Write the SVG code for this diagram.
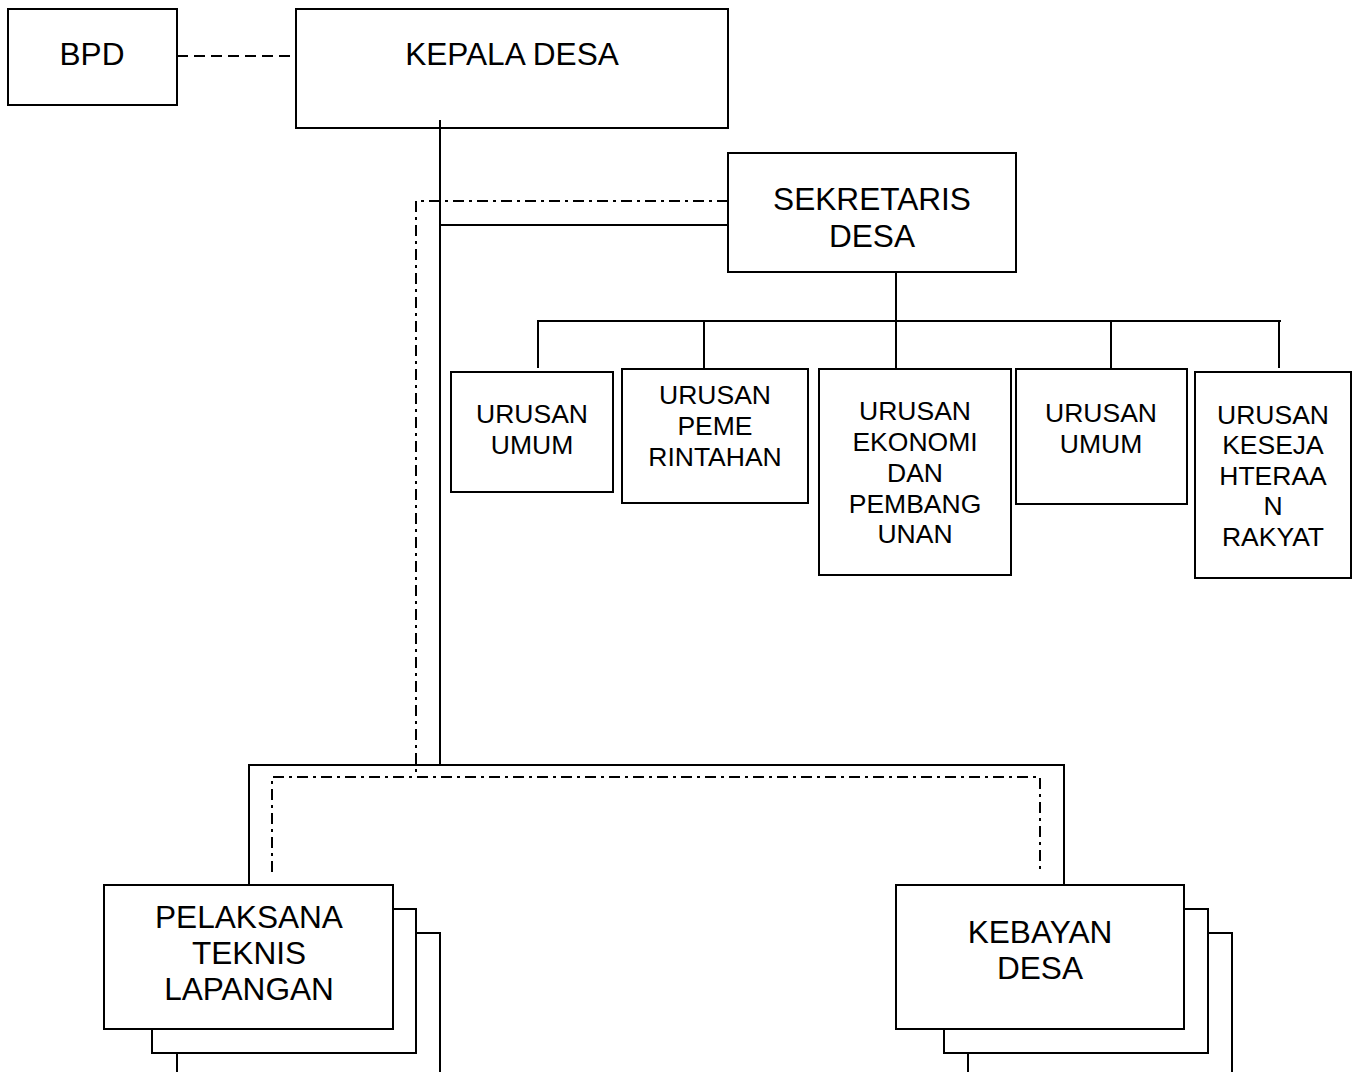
<svg xmlns="http://www.w3.org/2000/svg" width="1358" height="1072" viewBox="0 0 1358 1072">
<style>
.box{fill:#fff;stroke:#000;stroke-width:2}
.ln{fill:none;stroke:#000;stroke-width:2}
.dash{fill:none;stroke:#000;stroke-width:2;stroke-dasharray:11 6}
.dd{fill:none;stroke:#000;stroke-width:2;stroke-dasharray:11 5 3 5}
.big{font-family:"Liberation Sans",Arial,sans-serif;font-size:31.6px;fill:#000;text-anchor:middle}
.sm{font-family:"Liberation Sans",Arial,sans-serif;font-size:26.5px;fill:#000;text-anchor:middle}
</style>
<rect width="1358" height="1072" fill="#fff"/>
<g id="connectors">
<line class="dash" x1="177" y1="56" x2="296" y2="56"/>
<line class="ln" x1="440" y1="120" x2="440" y2="766"/>
<line class="ln" x1="440" y1="225" x2="728" y2="225"/>
<polyline class="dd" points="728,201 416,201 416,777"/>
<polyline class="dd" points="272,872 272,777 1040,777 1040,872"/>
<line class="ln" x1="896" y1="272" x2="896" y2="321"/>
<line class="ln" x1="538" y1="321" x2="1281" y2="321"/>
<line class="ln" x1="538" y1="320" x2="538" y2="368"/>
<line class="ln" x1="704" y1="320" x2="704" y2="368"/>
<line class="ln" x1="896" y1="320" x2="896" y2="368"/>
<line class="ln" x1="1111" y1="320" x2="1111" y2="368"/>
<line class="ln" x1="1279" y1="320" x2="1279" y2="368"/>
<polyline class="ln" points="249,885 249,765 1064,765 1064,885"/>
</g>
<g id="bpd">
<rect class="box" x="8" y="9" width="169" height="96"/>
<text class="big" x="92" y="65">BPD</text>
</g>
<g id="kepala-desa">
<rect class="box" x="296" y="9" width="432" height="119"/>
<text class="big" x="512" y="65">KEPALA DESA</text>
</g>
<line class="ln" x1="440" y1="120" x2="440" y2="128"/>
<g id="sekretaris-desa">
<rect class="box" x="728" y="153" width="288" height="119"/>
<text class="big" x="872" y="210">SEKRETARIS</text>
<text class="big" x="872" y="247">DESA</text>
</g>
<g id="urusan-umum-1">
<rect class="box" x="451" y="372" width="162" height="120"/>
<text class="sm" x="532" y="423">URUSAN</text>
<text class="sm" x="532" y="454">UMUM</text>
</g>
<g id="urusan-pemerintahan">
<rect class="box" x="622" y="369" width="186" height="134"/>
<text class="sm" x="715" y="404">URUSAN</text>
<text class="sm" x="715" y="435">PEME</text>
<text class="sm" x="715" y="466">RINTAHAN</text>
</g>
<g id="urusan-ekonomi">
<rect class="box" x="819" y="369" width="192" height="206"/>
<text class="sm" x="915" y="420">URUSAN</text>
<text class="sm" x="915" y="451">EKONOMI</text>
<text class="sm" x="915" y="482">DAN</text>
<text class="sm" x="915" y="513">PEMBANG</text>
<text class="sm" x="915" y="543">UNAN</text>
</g>
<g id="urusan-umum-2">
<rect class="box" x="1016" y="369" width="171" height="135"/>
<text class="sm" x="1101" y="422">URUSAN</text>
<text class="sm" x="1101" y="453">UMUM</text>
</g>
<g id="urusan-kesejahteraan">
<rect class="box" x="1195" y="372" width="156" height="206"/>
<text class="sm" x="1273" y="424">URUSAN</text>
<text class="sm" x="1273" y="454">KESEJA</text>
<text class="sm" x="1273" y="485">HTERAA</text>
<text class="sm" x="1273" y="515">N</text>
<text class="sm" x="1273" y="546">RAKYAT</text>
</g>
<g id="pelaksana-teknis-lapangan">
<rect class="box" x="177" y="933" width="263" height="200"/>
<rect class="box" x="152" y="909" width="264" height="144"/>
<rect class="box" x="104" y="885" width="289" height="144"/>
<text class="big" x="249" y="928">PELAKSANA</text>
<text class="big" x="249" y="964">TEKNIS</text>
<text class="big" x="249" y="1000">LAPANGAN</text>
</g>
<g id="kebayan-desa">
<rect class="box" x="968" y="933" width="264" height="200"/>
<rect class="box" x="944" y="909" width="264" height="144"/>
<rect class="box" x="896" y="885" width="288" height="144"/>
<text class="big" x="1040" y="943">KEBAYAN</text>
<text class="big" x="1040" y="979">DESA</text>
</g>
</svg>
